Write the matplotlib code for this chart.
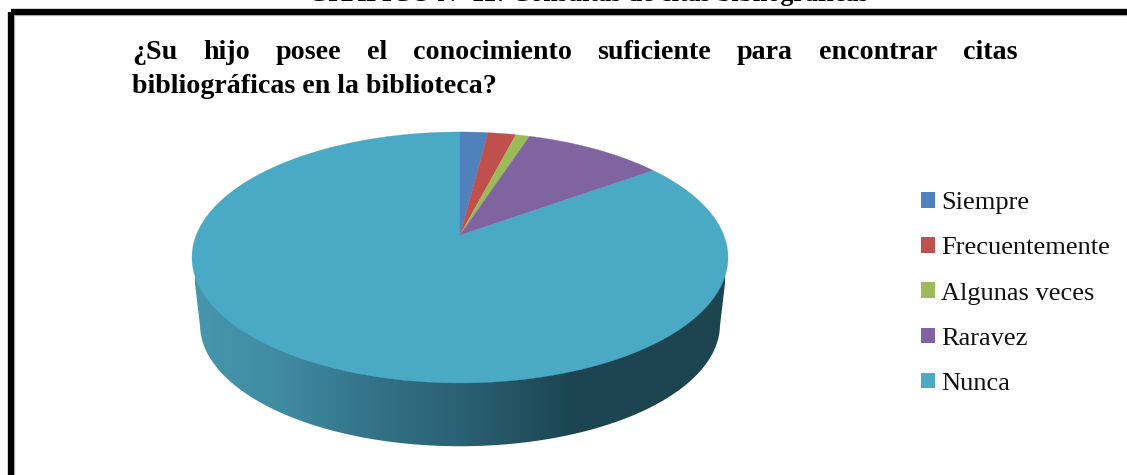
import numpy as np
import matplotlib
matplotlib.use("Agg")
import matplotlib.pyplot as plt
from matplotlib.colors import LinearSegmentedColormap
from matplotlib.patches import Patch, Polygon, Rectangle

categories = ["Siempre", "Frecuentemente", "Algunas veces", "Raravez", "Nunca"]
values = [2, 2, 1, 10, 85]
colors = ["#4F81BD", "#C0504D", "#9BBB59", "#8064A2", "#4AA9C4"]
caption = "GRÁFICO Nº 11: Consultas de citas bibliográficas"
title_line1 = "¿Su hijo posee el conocimiento suficiente para encontrar citas"
title_line2 = "bibliográficas en la biblioteca?"

W, H = 1127, 475
SERIF = "Liberation Serif"
fig = plt.figure(figsize=(W / 100, H / 100), dpi=100, facecolor="white")
ax = fig.add_axes([0, 0, 1, 1])

# Perspective projection of the pie disc
CX, AY, R, S, K = 460.0, 235.0, 263.7, 121.5, 0.179


def rim(theta, r=1.0):
    """theta is clockwise from twelve o'clock, in radians."""
    u, v = r * np.sin(theta), r * np.cos(theta)
    d = 1 + K * v
    return CX + R * u / d, AY - S * v / d


# Side wall: gradient clipped to the area below the disc
t = np.linspace(0, 2 * np.pi, 721)
rx, ry = rim(t)
bx, by = CX + 0.97 * (rx - CX), 325 + 0.97 * (ry - 258)
keep = ry >= 258
order = np.argsort(t[keep])
wall_pts = np.column_stack([bx[keep][order], by[keep][order]])
wall_pts = np.vstack([[728, 258], wall_pts, [192, 258]])
wall = Polygon(wall_pts, closed=True, transform=ax.transData, fc="none", ec="none")
ax.add_patch(wall)
grad = LinearSegmentedColormap.from_list(
    "wall",
    [(0.0, "#4796AE"), (0.17, "#3F8AA1"), (0.31, "#35758B"), (0.51, "#2A6072"),
     (0.71, "#1D4552"), (1.0, "#1D4550")],
)
img = ax.imshow(np.linspace(0, 1, 530)[None, :], cmap=grad, aspect="auto",
                extent=(195, 725, 450, 250), zorder=1, interpolation="bilinear")
img.set_clip_path(wall)

# Top face
edges = np.concatenate([[0], np.cumsum(values)]) / np.sum(values) * 2 * np.pi
for i in [4, 0, 1, 2, 3]:
    a = np.linspace(edges[i], edges[i + 1], max(3, int(values[i] * 8)))
    x, y = rim(a)
    pts = np.vstack([[CX, AY], np.column_stack([x, y])])
    ax.add_patch(Polygon(pts, closed=True, fc=colors[i], ec=colors[i], lw=0.2, zorder=2))

# Frame
ax.add_patch(Rectangle((11, 12), 2000, 2000, fill=False, ec="#C4C4C4", lw=5.3, zorder=3))
ax.add_patch(Rectangle((11, 12), 2000, 2000, fill=False, ec="black", lw=4.5, zorder=4))

ax.set_xlim(0, W)
ax.set_ylim(H, 0)
ax.axis("off")

# Caption cut by the top of the picture
ax.text(588, 0.6, caption, family=SERIF, weight="bold", fontsize=18.7, ha="center",
        va="baseline", color="black", clip_on=False)

# Justified first title line
TITLE_FS = 20.2
fig.canvas.draw()
rend = fig.canvas.get_renderer()
words = title_line1.split(" ")
artists = [ax.text(132, 59, w, family=SERIF, weight="bold", fontsize=TITLE_FS, va="baseline")
           for w in words]
widths = [a.get_window_extent(rend).width for a in artists]
left, right = 132.0, 1017.0
gap = (right - left - sum(widths)) / (len(words) - 1)
pos = left
for a, w in zip(artists, widths):
    a.set_x(pos)
    pos += w + gap
ax.text(132, 93, title_line2, family=SERIF, weight="bold", fontsize=TITLE_FS, va="baseline")

# Legend
fs = 19
fpx = fs * 100 / 72
handles = [Patch(fc=c, ec="none") for c in colors]
ax.legend(handles, categories, loc="upper left", bbox_to_anchor=(921, 192),
          bbox_transform=ax.transData, frameon=False, borderpad=0, borderaxespad=0,
          prop={"family": SERIF, "size": fs}, handlelength=14 / fpx, handleheight=14 / fpx,
          handletextpad=6 / fpx, labelspacing=0.875, labelcolor="#111111")

fig.savefig("out.png", dpi=100, facecolor="white")
